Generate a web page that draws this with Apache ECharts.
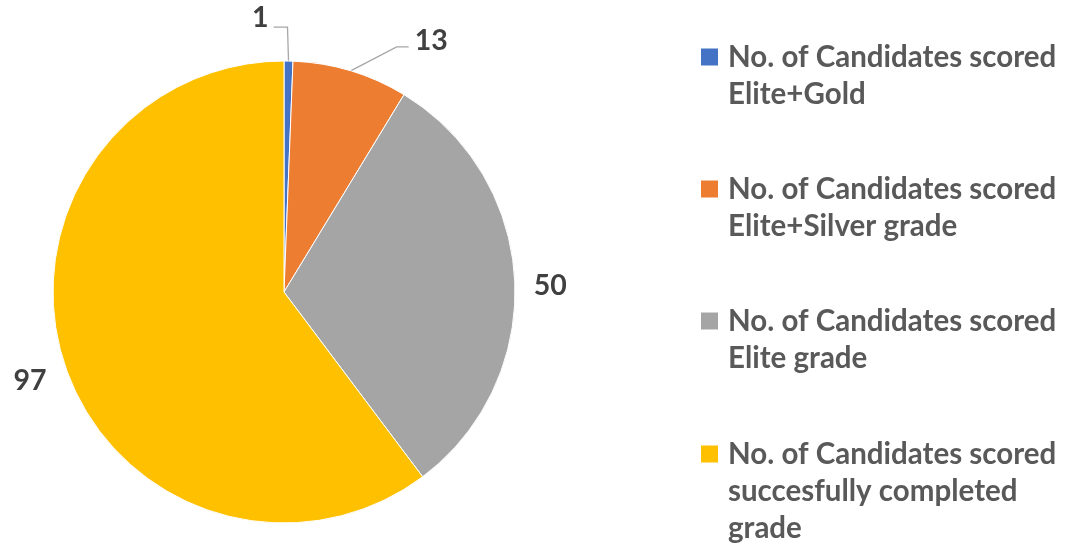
<!DOCTYPE html>
<html>
<head>
<meta charset="utf-8">
<script src="https://cdn.jsdelivr.net/npm/echarts@6/dist/echarts.min.js"></script>
<style>
  html, body { margin: 0; background: #fff; }
  #chart { width: 1066px; height: 549px; }
</style>
</head>
<body>
<div id="chart"></div>
<script>
var categories = [
  'No. of Candidates scored Elite+Gold',
  'No. of Candidates scored Elite+Silver grade',
  'No. of Candidates scored Elite grade',
  'No. of Candidates scored succesfully completed grade'
]
var values = [1, 13, 50, 97]
var colors = ['#4472C4', '#ED7D31', '#A5A5A5', '#FFC000']

// first-line centre of each legend entry, and how many lines it wraps to
var legendCentres = [57, 189, 321, 454]
var legendRows = [2, 2, 2, 3]
var lineH = 37.2
var font = 'Lato'

var chart = echarts.init(document.getElementById('chart'))

// the legend centres the icon on the whole text block, so blank lines are
// put in front to bring the icon level with the first line
var legends = categories.map(function (name, i) {
  var n = legendRows[i]
  return {
    data: [name],
    left: 701,
    top: legendCentres[i] - (2 * n - 1) * lineH / 2,
    padding: 0,
    itemWidth: 17,
    itemHeight: 17,
    icon: 'rect',
    selectedMode: false,
    itemStyle: { borderWidth: 0 },
    formatter: function (nm) {
      return new Array(n).join('\n') + nm
    },
    textStyle: {
      fontFamily: font,
      fontWeight: 'bold',
      fontSize: 29.5,
      color: '#595959',
      lineHeight: lineH,
      width: 355,
      overflow: 'break',
      padding: [0, 0, 0, 5]
    }
  }
})

var option = {
  backgroundColor: '#fff',
  animation: false,
  legend: legends,
  series: [
    {
      type: 'pie',
      center: [284, 292],
      radius: 231,
      startAngle: 90,
      clockwise: true,
      avoidLabelOverlap: false,
      itemStyle: { borderColor: '#fff', borderWidth: 1 },
      label: {
        show: true,
        position: 'outside',
        formatter: '{c}',
        fontFamily: font,
        fontWeight: 'bold',
        fontSize: 28.5,
        color: '#404040'
      },
      labelLine: {
        show: true,
        length: 20,
        length2: 12,
        lineStyle: { color: '#A6A6A6', width: 1.3 }
      },
      data: values.map(function (v, i) {
        var d = { name: categories[i], value: v, itemStyle: { color: colors[i] } }
        if (i >= 2) d.labelLine = { show: false, length: 14, length2: 0 }
        return d
      }),
      labelLayout: function (p) {
        var pts = p.labelLinePoints
        if (p.dataIndex === 0 && pts) {
          var e = pts[0]
          return {
            x: e[0] - 20, y: e[1] - 43, align: 'right', verticalAlign: 'middle',
            labelLinePoints: [e, [e[0] - 1, e[1] - 34], [e[0] - 15, e[1] - 34]]
          }
        }
        if (p.dataIndex === 1 && pts) {
          var e1 = pts[0]
          return {
            x: e1[0] + 64, y: e1[1] - 30, align: 'left', verticalAlign: 'middle',
            labelLinePoints: [e1, [e1[0] + 46, e1[1] - 24], [e1[0] + 58, e1[1] - 24]]
          }
        }
        if (p.dataIndex === 2) return { dy: 6 }
        if (p.dataIndex === 3) return { dy: 11 }
        return {}
      }
    }
  ]
}

chart.setOption(option)
</script>
</body>
</html>
